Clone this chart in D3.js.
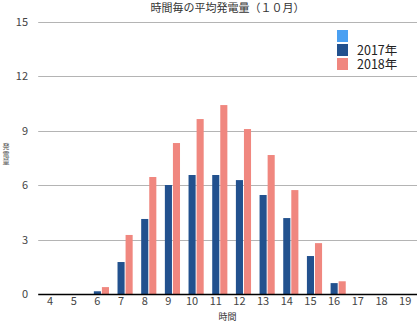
<!DOCTYPE html>
<html><head><meta charset="utf-8">
<script src="https://cdn.jsdelivr.net/npm/d3@7"></script>
<style>body{margin:0;background:#fff;}svg{display:block;font-family:"Noto Sans CJK JP","Noto Sans",sans-serif;}</style>
</head><body>
<svg id="c" width="417" height="323"></svg>
<script>
const hours = [4,5,6,7,8,9,10,11,12,13,14,15,16,17,18,19];
const seriesNames = ["", "2017年", "2018年"];
const seriesColors = ["#4aa0f2", "#22518e", "#f0877f"];
const values2016 = [0,0,0,0,0,0,0,0,0,0,0,0,0,0,0,0];
const values2017 = [0,0,0.15,1.76,4.13,6.0,6.55,6.55,6.27,5.45,4.18,2.09,0.6,0,0,0];
const values2018 = [0,0,0.38,3.25,6.44,8.31,9.63,10.4,9.08,7.65,5.72,2.8,0.7,0,0,0];
const yTicks = [0,3,6,9,12,15];
const title = "時間毎の平均発電量（１０月）";
const xTitle = "時間";
const yTitle = "発電量";

const allSeries = [values2016, values2017, values2018];
const svg = d3.select("#c");
const L = 38.2, R = 417, T = 21.5, B = 294;

const x = d3.scaleBand().domain(hours).range([L, R]).paddingInner(0.02).paddingOuter(0.01);
const x1 = d3.scaleBand().domain(d3.range(allSeries.length)).range([0, x.bandwidth()]).paddingInner(0.12);
const y = d3.scaleLinear().domain([0, 15]).range([B, T]);

// gridlines
svg.append("g").selectAll("line").data(yTicks.filter(d => d > 0)).join("line")
  .attr("x1", L).attr("x2", R).attr("y1", d => Math.round(y(d)) + 0.5).attr("y2", d => Math.round(y(d)) + 0.5)
  .attr("stroke", "#b4b4b4").attr("stroke-width", 1);

// y tick labels
svg.append("g").selectAll("text").data(yTicks).join("text")
  .attr("x", 28).attr("y", d => y(d) + 4).attr("text-anchor", "end")
  .attr("font-size", 11).attr("fill", "#444").text(d => d);

// bars
const g = svg.append("g");
hours.forEach((h, i) => {
  allSeries.forEach((s, k) => {
    const v = s[i];
    if (v > 0) {
      g.append("rect").attr("x", x(h) + x1(k)).attr("width", x1.bandwidth())
        .attr("y", y(v)).attr("height", y(0) - y(v)).attr("fill", seriesColors[k]);
    }
  });
});

// x axis line
svg.append("line").attr("x1", L).attr("x2", R).attr("y1", B + 0.5).attr("y2", B + 0.5)
  .attr("stroke", "#000").attr("stroke-width", 1.5);

// x tick labels
svg.append("g").selectAll("text").data(hours).join("text")
  .attr("x", d => x(d) + x.bandwidth() / 2).attr("y", 305).attr("text-anchor", "middle")
  .attr("font-size", 11).attr("fill", "#444").text(d => d);

// axis titles
svg.append("text").attr("x", (L + R) / 2).attr("y", 320).attr("text-anchor", "middle")
  .attr("font-size", 9).attr("fill", "#333").text(xTitle);
svg.append("text").attr("x", 6).attr("y", 143)
  .style("writing-mode", "vertical-rl").style("text-orientation", "upright")
  .attr("font-size", 7).attr("letter-spacing", 0.5).attr("fill", "#555").text(yTitle);

// title
svg.append("text").attr("x", (L + R) / 2).attr("y", 12).attr("text-anchor", "middle")
  .attr("font-size", 11).attr("fill", "#333").text(title);

// legend
const lg = svg.append("g");
seriesNames.forEach((n, k) => {
  lg.append("rect").attr("x", 337).attr("y", 30 + k * 14).attr("width", 11).attr("height", 12).attr("fill", seriesColors[k]);
});
const lt = lg.append("text").attr("font-size", 12.5).attr("fill", "#222");
seriesNames.forEach((n, k) => {
  if (n) lt.append("tspan").attr("x", 357).attr("y", 41 + k * 14).text(n);
});
</script>
</body></html>
